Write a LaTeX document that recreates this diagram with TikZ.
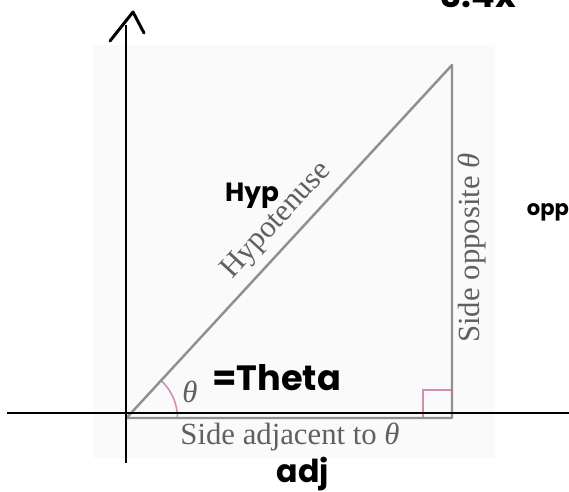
\documentclass[tikz,border=0pt]{standalone}
\usepackage{fontspec}
\setmainfont{Liberation Serif}
\newfontfamily\handfont{Poppins}
\definecolor{figgray}{HTML}{909090}
\definecolor{labgray}{HTML}{606060}
\definecolor{anglepink}{HTML}{D58CB2}
\definecolor{bggray}{HTML}{FAFAFA}

\begin{document}
\begin{tikzpicture}[x=0.02cm,y=-0.02cm,every node/.style={inner sep=0pt},
  lab/.style={text=labgray,font=\fontsize{17.5}{20}\selectfont},
  hand/.style={font=\handfont\bfseries\fontsize{#1}{#1}\selectfont},
  pen/.style={line width=1.7pt,line cap=round,line join=round}]
  \useasboundingbox (0,0) rectangle (569,492);
  % pasted figure
  \fill[bggray] (93,45) rectangle (495,458);
  \coordinate (A) at (126.5,418);
  \coordinate (B) at (452,418);
  \coordinate (C) at (452,65);
  \draw[anglepink,line width=0.9pt] (A) ++(51,0) arc[start angle=0,end angle=-47.4,radius=51];
  \draw[anglepink,line width=0.9pt] (423,418) |- (452,390);
  \draw[figgray,line width=1.4pt,line join=round] (A) -- (B) -- (C) -- cycle;
  \node[lab,rotate=47.4] (hyp) at (277,221) {Hypotenuse};
  \node[lab,rotate=90] (opp) at (472,248) {Side opposite \textit{θ}};
  \node[lab] (adj) at (290,437) {Side adjacent to \textit{θ}};
  \node[lab] (th) at (190,392) {\textit{θ}};
  % axes and notes
  \coordinate (ybot) at (126,463);
  \coordinate (ytop) at (126,25);
  \coordinate (xl) at (7,413);
  \coordinate (xr) at (569,413);
  \draw[line width=0.85pt] (ybot) -- (ytop);
  \draw[line width=0.85pt] (xl) -- (xr);
  \draw[pen] (110,41) -- (133,12) -- (144,33);
  \node[hand=20,anchor=base west] (theta) at (212,391) {=Theta};
  \node[hand=15] (hypnote) at (252,196) {Hyp};
  \node[hand=12] (oppnote) at (548,212) {opp};
  \node[hand=18] (adjnote) at (303,474) {adj};
  \node[hand=20,anchor=base west] (topnote) at (440,8) {3.4x};
\end{tikzpicture}
\end{document}
